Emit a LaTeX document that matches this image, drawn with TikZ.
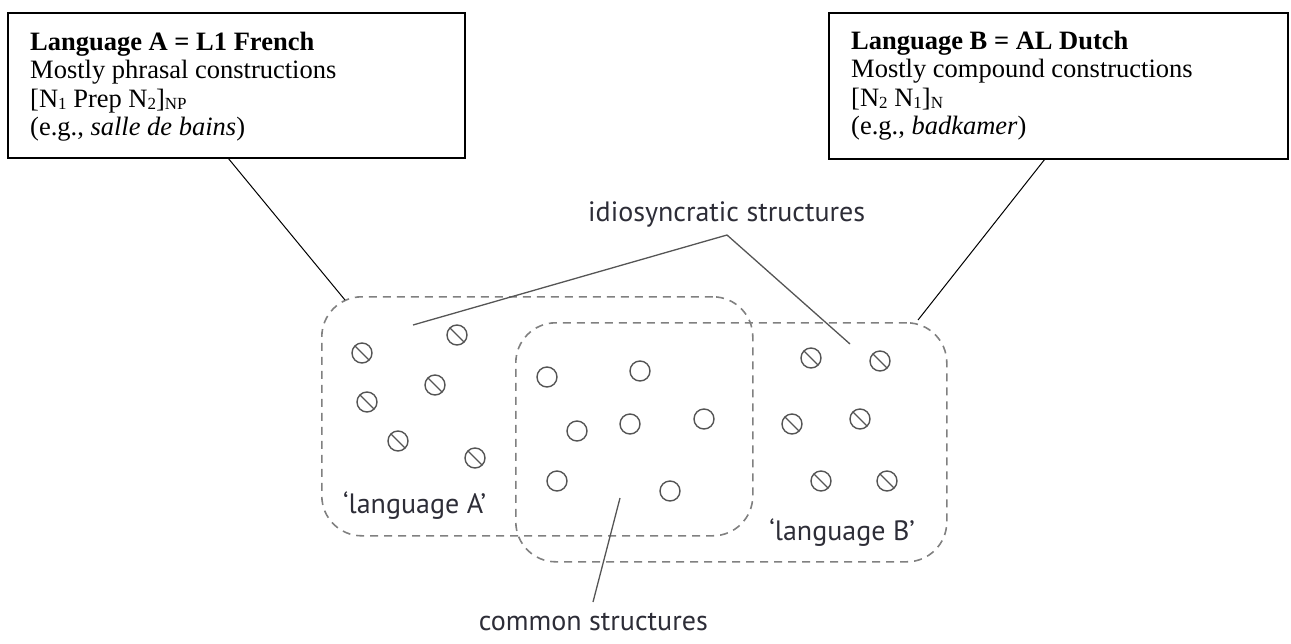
\documentclass[tikz,border=0pt]{standalone}
\usepackage{fontspec}
\setmainfont{Liberation Serif}
\newfontfamily\labfont{PT Sans}
\usetikzlibrary{calc}
\definecolor{dashgray}{RGB}{128,128,128}
\definecolor{lingray}{RGB}{85,85,85}
\definecolor{labcol}{RGB}{45,45,55}
\newcommand{\subsc}[1]{\raisebox{-2pt}{\fontsize{17}{17}\selectfont #1}}
\tikzset{
  box/.style={draw=black, line width=2.5pt, inner sep=0pt, outer sep=0pt, anchor=north west},
  txt/.style={anchor=base west, inner sep=0pt, font=\fontsize{26.5}{28}\selectfont},
  region/.style={draw=dashgray, dash pattern=on 8pt off 6pt, line width=1.6pt, rounded corners=40pt,
                 inner sep=0pt, anchor=north west, minimum width=431pt, minimum height=239pt},
  dot/.style={circle, draw=lingray, line width=1.4pt, minimum size=20pt, inner sep=0pt},
  xdot/.style={dot, path picture={\draw[lingray, line width=1.4pt]
      (path picture bounding box.north west) -- (path picture bounding box.south east);}},
  lab/.style={inner sep=0pt, text=labcol, font=\labfont\fontsize{28}{30}\selectfont},
  bline/.style={draw=black, line width=1pt},
  cline/.style={draw=lingray, line width=1.3pt}
}
\begin{document}
\begin{tikzpicture}[x=1pt,y=-1pt]
\useasboundingbox (0,0) rectangle (1291,643);

% boxes
\node[box, minimum width=457pt, minimum height=145pt] (boxA) at (8,13) {};
\node[txt] (a1) at (30,50) {\textbf{Language A = L1 French}};
\node[txt] (a2) at (30,78) {Mostly phrasal constructions};
\node[txt] (a3) at (30,107) {[N\subsc{1} Prep N\subsc{2}]\subsc{NP}};
\node[txt] (a4) at (30,135) {(e.g., \textit{salle de bains})};

\node[box, minimum width=459pt, minimum height=146pt] (boxB) at (829,13) {};
\node[txt] (b1) at (851,49) {\textbf{Language B = AL Dutch}};
\node[txt] (b2) at (851,77) {Mostly compound constructions};
\node[txt] (b3) at (851,106) {[N\subsc{2} N\subsc{1}]\subsc{N}};
\node[txt] (b4) at (851,134) {(e.g., \textit{badkamer})};

% regions
\node[region] (regA) at (321,296) {};
\node[region] (regB) at (515,322) {};

% crossed circles, language A
\foreach \x/\y [count=\i] in {362/353, 457/335, 435/385, 367/402, 398/441, 475/458}
  \node[xdot] (xa\i) at (\x,\y) {};
% crossed circles, language B
\foreach \x/\y [count=\i] in {811/358, 880/361, 792/424, 860/419, 821/481, 887/481}
  \node[xdot] (xb\i) at (\x,\y) {};
% plain circles, common
\foreach \x/\y [count=\i] in {547/377, 640/371, 577/431, 630/424, 704/419, 557/481, 670/491}
  \node[dot] (c\i) at (\x,\y) {};

% labels
\node[lab, anchor=base west] (idio) at (588,221) {idiosyncratic structures};
\node[lab, anchor=base east] (common) at (708,630) {common structures};
\node[lab, anchor=base west] (labA) at (343,513) {‘language A’};
\node[lab, anchor=base east] (labB) at (915,540) {‘language B’};

% connectors
\coordinate (aFoot) at (228,158);
\coordinate (aTop) at (345,300);
\coordinate (bFoot) at (1045,159);
\coordinate (bTop) at (918,320);
\draw[bline] (aFoot) -- (aTop);
\draw[bline] (bFoot) -- (bTop);

\coordinate (iL) at (413,325);
\coordinate (iApex) at (727,235);
\coordinate (iR) at (850,344);
\draw[cline] (iL) -- (iApex) -- (iR);

\coordinate (cTop) at (620,498);
\coordinate (cBot) at (593,602);
\draw[cline] (cTop) -- (cBot);
\end{tikzpicture}
\end{document}
